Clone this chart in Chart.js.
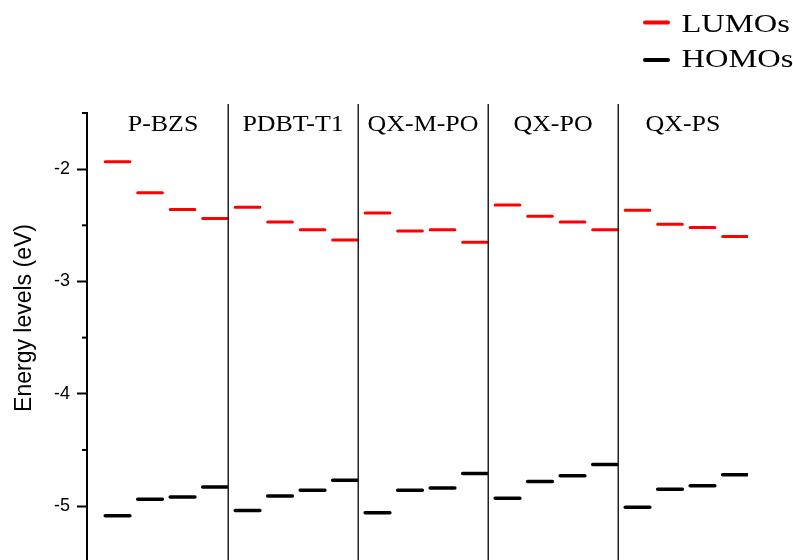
<!DOCTYPE html>
<html>
<head>
<meta charset="utf-8">
<script src="https://cdn.jsdelivr.net/npm/chart.js@4.4.0/dist/chart.umd.min.js"></script>
<style>
  html,body{margin:0;padding:0;background:#fff;}
  #wrap{width:793px;height:560px;}
</style>
</head>
<body>
<div id="wrap"><canvas id="c" width="793" height="560"></canvas></div>
<script>
// ---- data ----
const categories = ['P-BZS', 'PDBT-T1', 'QX-M-PO', 'QX-PO', 'QX-PS'];
const lumoLevels = [
  [-1.935, -2.21, -2.36, -2.44],
  [-2.34, -2.47, -2.54, -2.63],
  [-2.39, -2.55, -2.54, -2.65],
  [-2.32, -2.42, -2.47, -2.54],
  [-2.365, -2.49, -2.52, -2.60]
];
const homoLevels = [
  [-5.085, -4.94, -4.92, -4.83],
  [-5.04, -4.91, -4.86, -4.77],
  [-5.06, -4.86, -4.84, -4.71],
  [-4.93, -4.78, -4.73, -4.63],
  [-5.01, -4.85, -4.82, -4.72]
];
const seriesNames = ['LUMOs', 'HOMOs'];
const yTicks = [-2, -3, -4, -5];
const yTitle = 'Energy levels (eV)';

// build segment points (each level is a short horizontal line in its slot)
function segments(levels) {
  const pts = [];
  levels.forEach((arr, k) => arr.forEach((v, i) => {
    const n = 4 * k + i;
    pts.push({x: n + 0.22, y: v}, {x: n + 0.98, y: v}, {x: n + 0.99, y: null});
  }));
  return pts;
}

const decor = {
  id: 'decor',
  afterDraw(chart) {
    const ctx = chart.ctx;
    const xs = chart.scales.x, ys = chart.scales.y;
    const area = chart.chartArea;
    ctx.save();
    // section separators
    ctx.strokeStyle = '#222';
    ctx.lineWidth = 1.5;
    for (let k = 1; k < categories.length; k++) {
      const px = Math.round(xs.getPixelForValue(4 * k)) + 0.25;
      ctx.beginPath();
      ctx.moveTo(px, area.top - 9);
      ctx.lineTo(px, 560);
      ctx.stroke();
    }
    // minor ticks
    ctx.strokeStyle = '#000';
    ctx.lineWidth = 2;
    for (let v = -1.5; v >= ys.min - 1e-9; v -= 1) {
      const py = ys.getPixelForValue(v);
      ctx.beginPath();
      ctx.moveTo(area.left - 5, py);
      ctx.lineTo(area.left, py);
      ctx.stroke();
    }
    // section labels
    ctx.fillStyle = '#000';
    ctx.textBaseline = 'alphabetic';
    ctx.font = '24px "Liberation Serif", "Times New Roman", serif';
    categories.forEach((name, k) => {
      const cx = xs.getPixelForValue(4 * k + 2);
      ctx.save();
      ctx.translate(cx, 131);
      ctx.scale(1.08, 1);
      ctx.textAlign = 'center';
      ctx.fillText(name, 0, 0);
      ctx.restore();
    });
    // y title
    ctx.save();
    ctx.font = '23px "Liberation Sans", Arial, sans-serif';
    ctx.translate(22.5 + 8, 318);
    ctx.rotate(-Math.PI / 2);
    ctx.textAlign = 'center';
    ctx.textBaseline = 'alphabetic';
    ctx.fillText(yTitle, 0, 0);
    ctx.restore();
    // legend
    const colors = ['#ff0000', '#000000'];
    const rows = [{ly: 22.5, ty: 32.3}, {ly: 60, ty: 66.7}];
    seriesNames.forEach((name, i) => {
      ctx.strokeStyle = colors[i];
      ctx.lineWidth = 4;
      ctx.lineCap = 'round';
      ctx.beginPath();
      ctx.moveTo(645, rows[i].ly);
      ctx.lineTo(668, rows[i].ly);
      ctx.stroke();
      ctx.save();
      ctx.font = '26px "Liberation Serif", "Times New Roman", serif';
      ctx.translate(681.5, rows[i].ty);
      ctx.scale(1.25, 1);
      ctx.textAlign = 'left';
      ctx.fillStyle = '#000';
      ctx.fillText(name, 0, 0);
      ctx.restore();
    });
    ctx.restore();
  }
};

new Chart(document.getElementById('c'), {
  type: 'scatter',
  data: {
    datasets: [
      {label: seriesNames[0], data: segments(lumoLevels), showLine: true, spanGaps: false,
       borderColor: '#ff0000', borderWidth: 3, borderCapStyle: 'round', pointRadius: 0, pointHoverRadius: 0},
      {label: seriesNames[1], data: segments(homoLevels), showLine: true, spanGaps: false,
       borderColor: '#000000', borderWidth: 3.5, borderCapStyle: 'round', pointRadius: 0, pointHoverRadius: 0}
    ]
  },
  options: {
    responsive: false,
    animation: false,
    devicePixelRatio: 1,
    layout: {padding: {top: 113, left: 0, right: 45, bottom: 0}},
    plugins: {legend: {display: false}, tooltip: {enabled: false}, title: {display: false}},
    scales: {
      x: {type: 'linear', min: -0.34, max: 20, display: false},
      y: {
        type: 'linear', min: -5.48, max: -1.5,
        afterFit(s) { s.width = 87; s.paddingTop = 0; s.paddingBottom = 0; },
        afterBuildTicks(s) { s.ticks = yTicks.map(v => ({value: v})); },
        ticks: {
          color: '#000', padding: 7,
          font: {size: 18, family: '"Liberation Sans", Arial, sans-serif'},
          callback: v => String(v)
        },
        grid: {display: true, drawOnChartArea: false, drawTicks: true, tickLength: 10, tickWidth: 2, tickColor: '#000'},
        border: {display: true, color: '#000', width: 2}
      }
    }
  },
  plugins: [decor]
});
</script>
</body>
</html>
